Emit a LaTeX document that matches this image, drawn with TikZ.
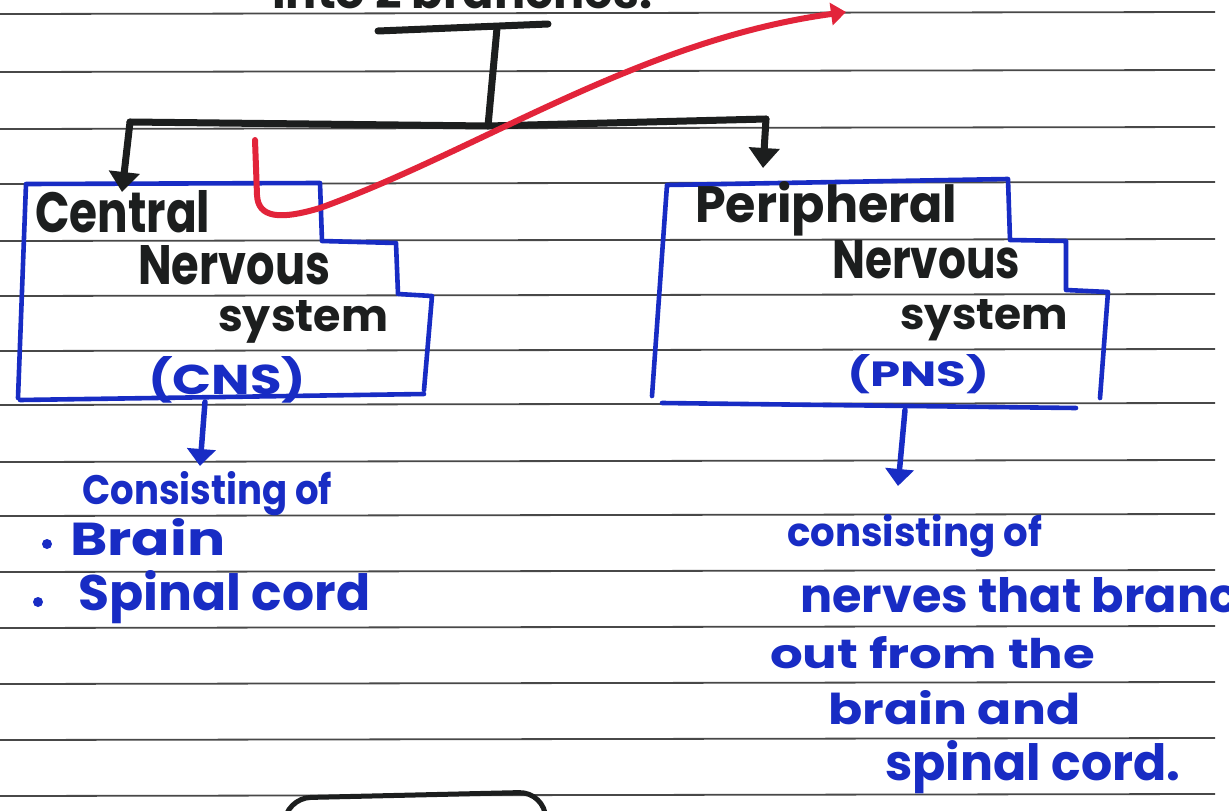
\documentclass[tikz,border=0pt]{standalone}
\usepackage{graphicx}
\usepackage{fontspec}
\setmainfont{Poppins}
\usetikzlibrary{arrows.meta}

\definecolor{ink}{RGB}{24,44,196}
\definecolor{pen}{RGB}{28,30,30}
\definecolor{redpen}{RGB}{226,36,58}
\definecolor{ruling}{RGB}{72,72,72}

% scale a piece of text to a given width (in pt), keeping its aspect ratio
\newcommand{\fitw}[2]{\resizebox{#1pt}{!}{#2}}
% scale a piece of text to a given width and cap height (in pt)
\newcommand{\fitwh}[3]{\resizebox{#1pt}{#2pt}{#3}}

\begin{document}
\begin{tikzpicture}[x=1pt,y=-1pt,
  blk/.style={draw=pen,line width=7pt,line cap=round,line join=round},
  blkarrow/.style={blk,-{Triangle[width=30pt,length=20pt]}},
  bluebox/.style={draw=ink,line width=4.6pt,line cap=round,line join=round},
  bluearrow/.style={draw=ink,line width=5.5pt,line cap=round,-{Triangle[width=28pt,length=17pt]}},
  txt/.style={inner sep=0pt,anchor=base west,text=pen,font=\bfseries},
  btxt/.style={inner sep=0pt,anchor=base west,text=ink,font=\bfseries},
  dot/.style={fill=ink,circle,inner sep=0pt,minimum size=10pt}]

\useasboundingbox (0,0) rectangle (1229,811);
\clip (0,0) rectangle (1229,811);
\fill[white] (0,0) rectangle (1229,811);

% ruled notebook lines
\foreach \y in {13,71,128,183,240,295,350,404,461,515,571,627,683,739,795}
  \draw[ruling,line width=1.8pt] (0,\y+1) -- (1215,\y-1);

% heading (only its lower edge falls inside the page)
\node[txt] (head) at (272,9) {\fitw{380}{into 2 branches.}};

% branching tree
\coordinate (barL) at (378,31);
\coordinate (barR) at (548,24);
\coordinate (stemTop) at (497,28);
\coordinate (fork) at (488,126);
\coordinate (forkL) at (130,122);
\coordinate (forkR) at (766,119);
\draw[blk] (barL) -- (barR);
\draw[blk] (stemTop) -- (fork);
\draw[blk] (forkL) -- (fork) -- (forkR);

% CNS box (stepped outline)
\draw[bluebox] (18,398) -- (26,184) -- (320,183) -- (322,241) -- (396,243)
  -- (398,294) -- (432,296) -- (424,390);
\draw[bluebox] (20,400) -- (424,394);
\coordinate (cnsTop) at (122,192);
\coordinate (cnsBot) at (205,402);

% PNS box (stepped outline)
\draw[bluebox] (652,396) -- (667,185) -- (1008,179) -- (1010,240) -- (1066,241)
  -- (1066,290) -- (1108,292) -- (1100,398);
\draw[bluebox] (662,403) -- (1076,408);
\coordinate (pnsTop) at (763,168);
\coordinate (pnsBot) at (905,410);

\draw[blkarrow] (forkL) -- (cnsTop);
\draw[blkarrow] (forkR) -- (pnsTop);

% CNS label
\node[txt] (c1) at (35,232) {\fitwh{175}{42}{Central}};
\node[txt] (c2) at (138,284) {\fitwh{192}{39}{Nervous}};
\node[txt] (c3) at (218,331) {\fitwh{170}{31}{system}};
\node[btxt] (c4) at (148,394) {\fitwh{158}{38}{(CNS)}};

% PNS label
\node[txt] (p1) at (695,222) {\fitwh{262}{41}{Peripheral}};
\node[txt] (p2) at (832,278) {\fitwh{188}{38}{Nervous}};
\node[txt] (p3) at (900,329) {\fitwh{168}{30}{system}};
\node[btxt] (p4) at (847,386) {\fitwh{142}{32}{(PNS)}};

% CNS contents
\coordinate (cnsList) at (200,466);
\draw[bluearrow] (cnsBot) -- (cnsList);
\node[btxt] (l1) at (82,504) {\fitwh{250}{33}{Consisting of}};
\node[dot] (b1) at (47,544) {};
\node[btxt] (l2) at (70,555) {\fitwh{155}{37}{Brain}};
\node[dot] (b2) at (38,602) {};
\node[btxt] (l3) at (78,610) {\fitwh{292}{40}{Spinal cord}};

% PNS contents
\coordinate (pnsList) at (898,486);
\draw[bluearrow] (pnsBot) -- (pnsList);
\node[btxt] (r1) at (787,546) {\fitwh{255}{32}{consisting of}};
\node[btxt] (r2) at (800,612) {\fitwh{470}{35}{nerves that branch}};
\node[btxt] (r3) at (770,668) {\fitwh{325}{32}{out from the}};
\node[btxt] (r4) at (828,724) {\fitwh{252}{34}{brain and}};
\node[btxt] (r5) at (885,780) {\fitwh{295}{40}{spinal cord.}};

% red pointer stroke
\coordinate (redStart) at (255,140);
\coordinate (redEnd) at (846,12);
\draw[redpen,line width=6pt,line cap=round,-{Triangle[width=22pt,length=15pt]}]
  (redStart) -- (257,195) .. controls (258,218) and (280,220) .. (320,208)
  .. controls (480,150) and (640,40) .. (redEnd);

% next box at the foot of the page
\draw[pen,line width=5pt,rounded corners=26pt] (283,870) -- (285,798) -- (545,792) -- (547,870);
\end{tikzpicture}
\end{document}
